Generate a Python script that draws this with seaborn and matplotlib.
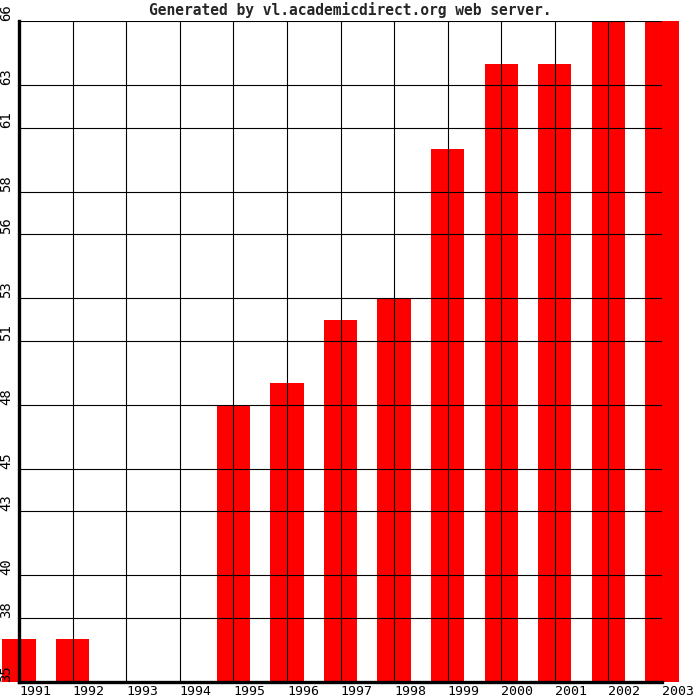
import matplotlib
matplotlib.use("Agg")
import matplotlib.pyplot as plt
import matplotlib.transforms as mtransforms
import seaborn as sns
import pandas as pd

# valores
anios = ["1991", "1992", "1993", "1994", "1995", "1996", "1997",
         "1998", "1999", "2000", "2001", "2002", "2003"]
valores = [37, 37, 35, 35, 48, 49, 52, 53, 60, 64, 64, 66, 66]
marcas_y = [35, 38, 40, 43, 45, 48, 51, 53, 56, 58, 61, 63, 66]
titulo = "Generated by vl.academicdirect.org web server."

df = pd.DataFrame({"anio": anios, "valor": valores})

sns.set_style("white")
plt.rcParams["font.family"] = ["DejaVu Sans Mono", "DejaVu Sans"]

fig = plt.figure(figsize=(7, 7), dpi=100)
ax = fig.add_axes([19 / 700, 1 - 682 / 700, (662 - 19) / 700, (682 - 21) / 700])

sns.barplot(data=df, x="anio", y="valor", order=anios, color="#ff0000",
            saturation=1, width=0.62, linewidth=0, ax=ax, zorder=1)

ax.set_xlim(0, len(anios) - 1)
ax.set_ylim(35, 66)
ax.set_yticks(marcas_y)
ax.set_yticklabels([str(v) for v in marcas_y])
ax.set_xlabel("")
ax.set_ylabel("")

# barras sobresalen a los lados, pero no por debajo
caja = mtransforms.TransformedBbox(mtransforms.Bbox([[-0.05, 0], [1.05, 1.005]]),
                                   ax.transAxes)
for p in ax.patches:
    p.set_clip_box(caja)

# rejilla encima de las barras
ax.set_axisbelow(False)
ax.grid(True, color="black", linewidth=0.8)
for lado in ["top", "right"]:
    ax.spines[lado].set_visible(False)
for lado in ["left", "bottom"]:
    ax.spines[lado].set_linewidth(2.4)
    ax.spines[lado].set_color("black")

ax.tick_params(axis="both", length=0, colors="black")
ax.tick_params(axis="x", pad=2.5, labelsize=9.5)
ax.tick_params(axis="y", pad=4, labelsize=10)

for lbl in ax.get_xticklabels():
    lbl.set_ha("left")
for lbl in ax.get_yticklabels():
    lbl.set_rotation(90)
    lbl.set_va("bottom")

fig.text(0.5, 0.997, titulo, ha="center", va="top", fontsize=10.5,
         fontweight="bold")

fig.savefig("out.png", dpi=100, facecolor="white")
